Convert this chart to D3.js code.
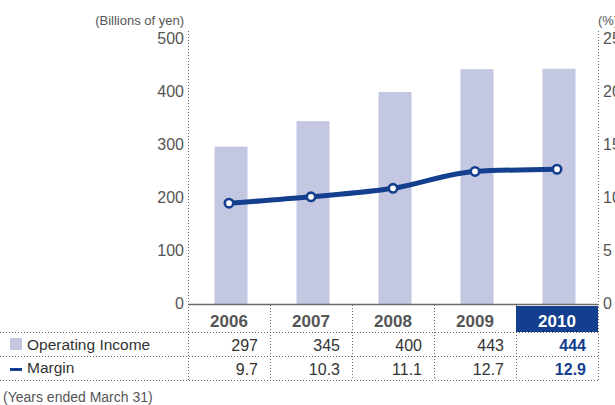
<!DOCTYPE html>
<html>
<head>
<meta charset="utf-8">
<script src="https://cdn.jsdelivr.net/npm/d3@7"></script>
<style>
  html, body { margin: 0; padding: 0; background: #fff; }
  svg { display: block; font-family: "Liberation Sans", Arial, sans-serif; }
</style>
</head>
<body>
<svg id="chart" width="615" height="405"></svg>
<script>
// Fiscal years (ended March 31)
const years = ["2006", "2007", "2008", "2009", "2010"];
// Operating income, billions of yen
const operatingIncome = [297, 345, 400, 443, 444];
// Operating margin, %
const margin = [9.7, 10.3, 11.1, 12.7, 12.9];
const leftTicks = [0, 100, 200, 300, 400, 500];
const rightTicks = [0, 5, 10, 15, 20, 25];

const barColor = "#c3c7e1";
const navy = "#143f8e";
const dotted = "#666";

const svg = d3.select("#chart");

const plotLeft = 188, plotRight = 598, plotTop = 39, base = 304;
const x = d3.scaleBand().domain(years).range([plotLeft, plotRight]).paddingInner(0).paddingOuter(0);
const yL = d3.scaleLinear().domain([0, 500]).range([base, plotTop]);
const yR = d3.scaleLinear().domain([0, 25]).range([base + 2, plotTop + 2]);

const rowHeader = [305, 332], rowInc = [332, 356], rowMar = [356, 380];

// bars
svg.append("g").selectAll("rect").data(operatingIncome).join("rect")
  .attr("x", (d, i) => x(years[i]) + x.bandwidth() / 2 - 14.5)
  .attr("width", 33)
  .attr("y", d => yL(d))
  .attr("height", d => yL(0) - yL(d))
  .attr("fill", barColor);

// dotted vertical axes / column dividers
const vLine = (xx, y1, y2) => svg.append("line")
  .attr("x1", xx).attr("x2", xx).attr("y1", y1).attr("y2", y2)
  .attr("stroke", dotted).attr("stroke-width", 1).attr("stroke-dasharray", "1,2");
vLine(plotLeft + 0.5, 31, rowMar[1]);
vLine(plotRight + 0.5, 31, rowMar[1]);
years.slice(1).forEach(yr => vLine(Math.round(x(yr)) + 0.5, rowHeader[0], rowMar[1]));

// dotted horizontal table rules
[rowHeader[1], rowInc[1], rowMar[1]].forEach(yy => svg.append("line")
  .attr("x1", 0).attr("x2", plotRight + 1).attr("y1", yy + 0.5).attr("y2", yy + 0.5)
  .attr("stroke", dotted).attr("stroke-width", 1).attr("stroke-dasharray", "1,2"));

// highlighted latest year header
svg.append("rect")
  .attr("x", x("2010")).attr("y", rowHeader[0] + 1)
  .attr("width", x.bandwidth()).attr("height", rowHeader[1] - rowHeader[0] - 1)
  .attr("fill", navy);

// baseline
svg.append("line")
  .attr("x1", plotLeft).attr("x2", plotRight).attr("y1", base + 0.5).attr("y2", base + 0.5)
  .attr("stroke", "#6b6b6b").attr("stroke-width", 1.5);

// left axis labels
const yAxisL = d3.axisLeft(yL).tickValues(leftTicks).tickSize(0).tickPadding(0);
const gL = svg.append("g").attr("transform", `translate(${plotLeft - 4},-1)`).call(yAxisL);
gL.select(".domain").remove();
gL.selectAll("text").attr("font-size", 16).attr("fill", "#555")
  .attr("font-family", "\"Liberation Sans\", Arial, sans-serif");

// right axis labels
const yAxisR = d3.axisRight(yR).tickValues(rightTicks).tickSize(0).tickPadding(0);
const gR = svg.append("g").attr("transform", `translate(${plotRight + 5},-3)`).call(yAxisR);
gR.select(".domain").remove();
gR.selectAll("text").attr("font-size", 16).attr("fill", "#555")
  .attr("font-family", "\"Liberation Sans\", Arial, sans-serif");

// unit captions
svg.append("text").attr("x", 184).attr("y", 25).attr("text-anchor", "end")
  .attr("font-size", 13).attr("fill", "#555").text("(Billions of yen)");
svg.append("text").attr("x", 598).attr("y", 25)
  .attr("font-size", 13).attr("fill", "#555").text("(%)");

// margin line
const line = d3.line()
  .x((d, i) => x(years[i]) + x.bandwidth() / 2)
  .y(d => yR(d))
  .curve(d3.curveMonotoneX);
svg.append("path").datum(margin).attr("d", line)
  .attr("fill", "none").attr("stroke", navy).attr("stroke-width", 5)
  .attr("stroke-linejoin", "round");
svg.append("g").selectAll("circle").data(margin).join("circle")
  .attr("cx", (d, i) => x(years[i]) + x.bandwidth() / 2)
  .attr("cy", d => yR(d))
  .attr("r", 4.2)
  .attr("fill", "#fff").attr("stroke", navy).attr("stroke-width", 2.6);

// table: year header
svg.append("g").selectAll("text").data(years).join("text")
  .attr("x", d => x(d) + x.bandwidth() / 2)
  .attr("y", 327)
  .attr("text-anchor", "middle")
  .attr("font-size", 17).attr("font-weight", "bold")
  .attr("fill", (d, i) => i === years.length - 1 ? "#fff" : "#555")
  .text(d => d);

// table: value rows
const rows = [
  { values: operatingIncome, fmt: d3.format("d"), y: 351 },
  { values: margin, fmt: d3.format(".1f"), y: 374.5 }
];
rows.forEach(r => {
  svg.append("g").selectAll("text").data(r.values).join("text")
    .attr("x", (d, i) => x(years[i]) + x.bandwidth() - 12)
    .attr("y", r.y)
    .attr("text-anchor", "end")
    .attr("font-size", 16)
    .attr("font-weight", (d, i) => i === years.length - 1 ? "bold" : "normal")
    .attr("fill", (d, i) => i === years.length - 1 ? navy : "#333")
    .text(d => r.fmt(d));
});

// row legends
svg.append("rect").attr("x", 10).attr("y", 338).attr("width", 12).attr("height", 12).attr("fill", barColor);
svg.append("text").attr("x", 27).attr("y", 350).attr("font-size", 15.5).attr("fill", "#333").text("Operating Income");
svg.append("line").attr("x1", 10).attr("x2", 22).attr("y1", 369.5).attr("y2", 369.5)
  .attr("stroke", navy).attr("stroke-width", 3);
svg.append("text").attr("x", 27).attr("y", 373).attr("font-size", 15.5).attr("fill", "#333").text("Margin");

// footnote
svg.append("text").attr("x", 3).attr("y", 402).attr("font-size", 14).attr("fill", "#555")
  .text("(Years ended March 31)");
</script>
</body>
</html>
